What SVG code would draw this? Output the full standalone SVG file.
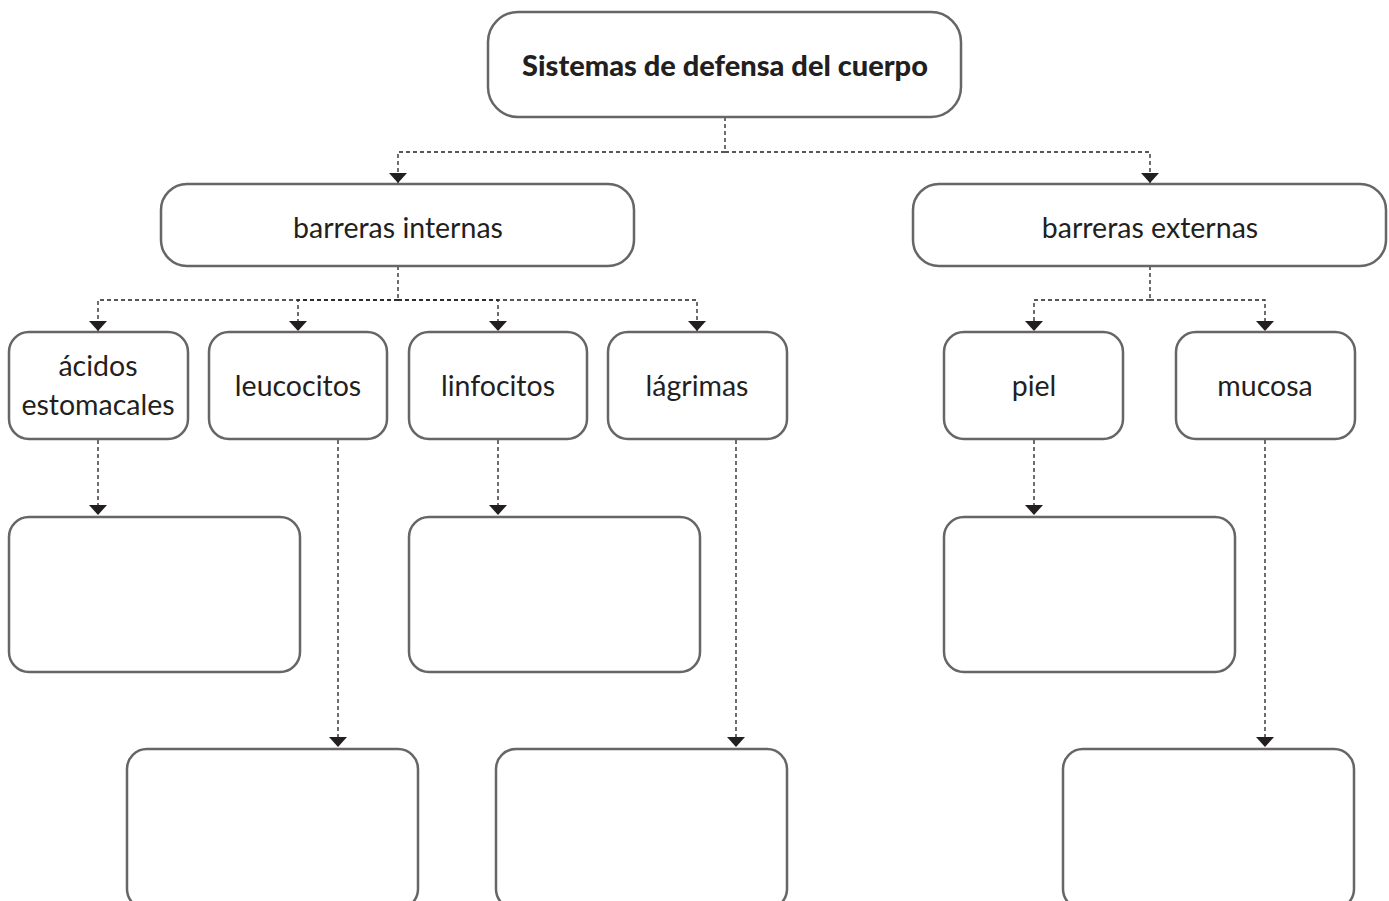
<svg xmlns="http://www.w3.org/2000/svg" width="1389" height="901" viewBox="0 0 1389 901">
<style>
.box{fill:#fff;stroke:#666;stroke-width:2.5}
.lbl{font-family:Lato,"Open Sans",sans-serif;font-size:28.5px;fill:#231f20;text-anchor:middle}
.title{font-family:Lato,"Open Sans",sans-serif;font-size:29px;font-weight:900;fill:#231f20;text-anchor:middle}
.con{fill:none;stroke:#231f20;stroke-width:1.3;stroke-dasharray:4 3}
</style>
<defs>
<marker id="arr" viewBox="0 0 10 18" refX="10" refY="9" markerWidth="10" markerHeight="18" markerUnits="userSpaceOnUse" orient="auto">
<path d="M0,0 L10,9 L0,18 z" fill="#231f20"/>
</marker>
</defs>
<rect width="1389" height="901" fill="#fff"/>
<g id="connectors">
<path class="con" d="M725,117 V152"/>
<path class="con" d="M725,152 H398 V183" marker-end="url(#arr)"/>
<path class="con" d="M725,152 H1150 V183" marker-end="url(#arr)"/>
<path class="con" d="M398,266 V300"/>
<path class="con" d="M398,300 H98 V331" marker-end="url(#arr)"/>
<path class="con" d="M398,300 H298 V331" marker-end="url(#arr)"/>
<path class="con" d="M398,300 H498 V331" marker-end="url(#arr)"/>
<path class="con" d="M398,300 H697 V331" marker-end="url(#arr)"/>
<path class="con" d="M1150,266 V300"/>
<path class="con" d="M1150,300 H1034 V331" marker-end="url(#arr)"/>
<path class="con" d="M1150,300 H1265 V331" marker-end="url(#arr)"/>
<path class="con" d="M98,440 V515" marker-end="url(#arr)"/>
<path class="con" d="M338,440 V747" marker-end="url(#arr)"/>
<path class="con" d="M498,440 V515" marker-end="url(#arr)"/>
<path class="con" d="M736,440 V747" marker-end="url(#arr)"/>
<path class="con" d="M1034,440 V515" marker-end="url(#arr)"/>
<path class="con" d="M1265,440 V747" marker-end="url(#arr)"/>
</g>
<g id="n-root"><rect class="box" x="488" y="12" width="473" height="105" rx="30"/><text class="title" x="725" y="76">Sistemas de defensa del cuerpo</text></g>
<g id="n-internas"><rect class="box" x="161" y="184" width="473" height="82" rx="26"/><text class="lbl" x="398" y="238">barreras internas</text></g>
<g id="n-externas"><rect class="box" x="913" y="184" width="473" height="82" rx="26"/><text class="lbl" x="1150" y="238">barreras externas</text></g>
<g id="n-acidos"><rect class="box" x="9" y="332" width="179" height="107" rx="20"/><text class="lbl" x="98" y="376">ácidos</text><text class="lbl" x="98" y="415">estomacales</text></g>
<g id="n-leucocitos"><rect class="box" x="209" y="332" width="178" height="107" rx="20"/><text class="lbl" x="298" y="396">leucocitos</text></g>
<g id="n-linfocitos"><rect class="box" x="409" y="332" width="178" height="107" rx="20"/><text class="lbl" x="498" y="396">linfocitos</text></g>
<g id="n-lagrimas"><rect class="box" x="608" y="332" width="179" height="107" rx="20"/><text class="lbl" x="697" y="396">lágrimas</text></g>
<g id="n-piel"><rect class="box" x="944" y="332" width="179" height="107" rx="20"/><text class="lbl" x="1034" y="396">piel</text></g>
<g id="n-mucosa"><rect class="box" x="1176" y="332" width="179" height="107" rx="20"/><text class="lbl" x="1265" y="396">mucosa</text></g>
<g id="n-e1"><rect class="box" x="9" y="517" width="291" height="155" rx="20"/></g>
<g id="n-e2"><rect class="box" x="409" y="517" width="291" height="155" rx="20"/></g>
<g id="n-e3"><rect class="box" x="944" y="517" width="291" height="155" rx="20"/></g>
<g id="n-e4"><rect class="box" x="127" y="749" width="291" height="160" rx="20"/></g>
<g id="n-e5"><rect class="box" x="496" y="749" width="291" height="160" rx="20"/></g>
<g id="n-e6"><rect class="box" x="1063" y="749" width="291" height="160" rx="20"/></g>
</svg>
